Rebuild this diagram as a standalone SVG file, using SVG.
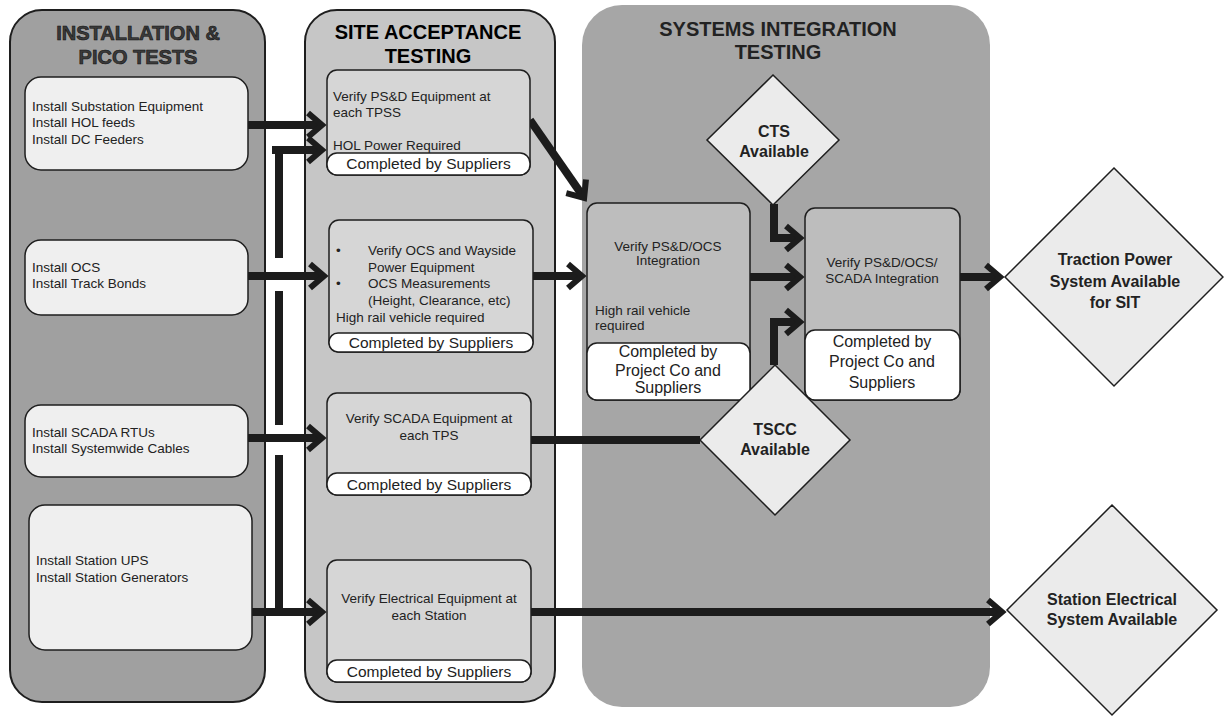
<svg xmlns="http://www.w3.org/2000/svg" width="1224" height="717" viewBox="0 0 1224 717">
<style>
  .txt{font-family:"Liberation Sans",Arial,sans-serif;fill:#222}
  .hdr{font-family:"Liberation Sans",Arial,sans-serif;font-weight:bold;font-size:20px;text-anchor:middle}
  .s13{font-size:13.5px}
  .s15{font-size:15.5px}
  .r16{font-size:16px}
  .b16{font-size:16px;font-weight:bold}
  .mid{text-anchor:middle}
  .box1{fill:#efefef;stroke:#1e1e1e;stroke-width:1.5}
  .box2{fill:#d6d6d6;stroke:#1e1e1e;stroke-width:1.5}
  .box3{fill:#bdbdbd;stroke:#1e1e1e;stroke-width:1.5}
  .pill{fill:#ffffff;stroke:#1e1e1e;stroke-width:1.5}
  .dia{fill:#ebebeb;stroke:#1e1e1e;stroke-width:1.5}
  .wire{fill:none;stroke:#1c1c1c;stroke-width:8}
  .arrow{marker-end:url(#chev)}
</style>
<defs>
  <marker id="chev" markerUnits="userSpaceOnUse" viewBox="-20 -16 26 32" refX="-3" refY="0" markerWidth="26" markerHeight="32" orient="auto" overflow="visible">
    <path d="M-14,-12 L0,0 L-14,12" fill="none" stroke="#1c1c1c" stroke-width="6"/>
  </marker>
</defs>

<!-- phase lanes -->
<g id="lane-install">
  <rect x="10" y="10" width="255" height="692" rx="32" fill="#a0a0a0" stroke="#1e1e1e" stroke-width="2"/>
  <text class="hdr" x="138" y="40" fill="#3a3a3a" stroke="#111" stroke-width="0.6">INSTALLATION &amp;</text>
  <text class="hdr" x="138" y="64" fill="#3a3a3a" stroke="#111" stroke-width="0.6">PICO TESTS</text>
</g>
<g id="lane-sat">
  <rect x="305" y="10" width="250" height="692" rx="32" fill="#c6c6c6" stroke="#1e1e1e" stroke-width="2"/>
  <text class="hdr" x="428" y="39" fill="#000">SITE ACCEPTANCE</text>
  <text class="hdr" x="428" y="63" fill="#000">TESTING</text>
</g>
<g id="lane-sit">
  <rect x="582" y="5" width="408" height="702" rx="40" fill="#a6a6a6"/>
  <text class="hdr" x="778" y="36" fill="#222">SYSTEMS INTEGRATION</text>
  <text class="hdr" x="778" y="59" fill="#222">TESTING</text>
</g>

<!-- connectors -->
<g id="connectors">
  <path class="wire arrow" d="M248,125 H319"/>
  <path class="wire arrow" d="M272,150 H319"/>
  <path class="wire" d="M279,146 V258 M279,291 V425 M279,455 V612"/>
  <path class="wire arrow" d="M248,276 H321"/>
  <path class="wire arrow" d="M248,438 H319"/>
  <path class="wire arrow" d="M252,612 H319"/>
  <path class="wire arrow" d="M530,120 L582.4,195.4"/>
  <path class="wire arrow" d="M533,276 H579"/>
  <path class="wire" d="M531,440 H700"/>
  <path class="wire arrow" d="M750,277 H797"/>
  <path class="wire arrow" d="M774,204 V238 H797"/>
  <path class="wire arrow" d="M774,365 V322 H797"/>
  <path class="wire arrow" d="M960,277 H997"/>
  <path class="wire arrow" d="M531,612 H999"/>
</g>

<!-- installation tasks -->
<g id="inst-substation">
  <rect class="box1" x="25" y="77" width="223" height="93" rx="16"/>
  <text class="txt s13" x="32" y="111">Install Substation Equipment</text>
  <text class="txt s13" x="32" y="127">Install HOL feeds</text>
  <text class="txt s13" x="32" y="144">Install DC Feeders</text>
</g>
<g id="inst-ocs">
  <rect class="box1" x="25" y="240" width="223" height="75" rx="16"/>
  <text class="txt s13" x="32" y="272">Install OCS</text>
  <text class="txt s13" x="32" y="288">Install Track Bonds</text>
</g>
<g id="inst-scada">
  <rect class="box1" x="25" y="405" width="223" height="72" rx="16"/>
  <text class="txt s13" x="32" y="437">Install SCADA RTUs</text>
  <text class="txt s13" x="32" y="453">Install Systemwide Cables</text>
</g>
<g id="inst-station">
  <rect class="box1" x="29" y="505" width="223" height="145" rx="16"/>
  <text class="txt s13" x="36" y="565">Install Station UPS</text>
  <text class="txt s13" x="36" y="582">Install Station Generators</text>
</g>

<!-- site acceptance tests -->
<g id="sat-psd">
  <rect class="box2" x="327" y="70" width="203" height="105" rx="10"/>
  <text class="txt s13" x="333" y="101">Verify PS&amp;D Equipment at</text>
  <text class="txt s13" x="333" y="117">each TPSS</text>
  <text class="txt s13" x="333" y="150">HOL Power Required</text>
  <rect class="pill" x="327" y="153" width="203" height="22" rx="10"/>
  <text class="txt s15 mid" x="428.5" y="169">Completed by Suppliers</text>
</g>
<g id="sat-ocs">
  <rect class="box2" x="329" y="220" width="204" height="132" rx="10"/>
  <text class="txt s13" x="336" y="255">•</text>
  <text class="txt s13" x="368" y="255">Verify OCS and Wayside</text>
  <text class="txt s13" x="368" y="272">Power Equipment</text>
  <text class="txt s13" x="336" y="288">•</text>
  <text class="txt s13" x="368" y="288">OCS Measurements</text>
  <text class="txt s13" x="368" y="305">(Height, Clearance, etc)</text>
  <text class="txt s13" x="336" y="322">High rail vehicle required</text>
  <rect class="pill" x="329" y="333" width="204" height="19" rx="9"/>
  <text class="txt s15 mid" x="431" y="348">Completed by Suppliers</text>
</g>
<g id="sat-scada">
  <rect class="box2" x="327" y="393" width="204" height="102" rx="10"/>
  <text class="txt s13 mid" x="429" y="423">Verify SCADA Equipment at</text>
  <text class="txt s13 mid" x="429" y="440">each TPS</text>
  <rect class="pill" x="327" y="473" width="204" height="22" rx="10"/>
  <text class="txt s15 mid" x="429" y="490">Completed by Suppliers</text>
</g>
<g id="sat-electrical">
  <rect class="box2" x="327" y="560" width="204" height="122" rx="10"/>
  <text class="txt s13 mid" x="429" y="603">Verify Electrical Equipment at</text>
  <text class="txt s13 mid" x="429" y="620">each Station</text>
  <rect class="pill" x="327" y="660" width="204" height="22" rx="10"/>
  <text class="txt s15 mid" x="429" y="677">Completed by Suppliers</text>
</g>

<!-- integration tests -->
<g id="sit-psd-ocs">
  <rect class="box3" x="587" y="203" width="163" height="197" rx="10"/>
  <text class="txt s13 mid" x="668" y="251">Verify PS&amp;D/OCS</text>
  <text class="txt s13 mid" x="668" y="265">Integration</text>
  <text class="txt s13" x="595" y="315">High rail vehicle</text>
  <text class="txt s13" x="595" y="330">required</text>
  <rect class="pill" x="587" y="343" width="163" height="57" rx="10"/>
  <text class="txt r16 mid" x="668" y="357">Completed by</text>
  <text class="txt r16 mid" x="668" y="376">Project Co and</text>
  <text class="txt r16 mid" x="668" y="393">Suppliers</text>
</g>
<g id="sit-psd-ocs-scada">
  <rect class="box3" x="805" y="208" width="155" height="192" rx="10"/>
  <text class="txt s13 mid" x="882" y="267">Verify PS&amp;D/OCS/</text>
  <text class="txt s13 mid" x="882" y="283">SCADA Integration</text>
  <rect class="pill" x="805" y="330" width="155" height="70" rx="10"/>
  <text class="txt r16 mid" x="882" y="347">Completed by</text>
  <text class="txt r16 mid" x="882" y="367">Project Co and</text>
  <text class="txt r16 mid" x="882" y="388">Suppliers</text>
</g>

<!-- availability milestones -->
<g id="cts">
  <polygon class="dia" points="773,75 839,140 773,205 707,140"/>
  <text class="txt b16 mid" x="774" y="137">CTS</text>
  <text class="txt b16 mid" x="774" y="157">Available</text>
</g>
<g id="tscc">
  <polygon class="dia" points="775,365 850,440 775,515 700,440"/>
  <text class="txt b16 mid" x="775" y="435">TSCC</text>
  <text class="txt b16 mid" x="775" y="455">Available</text>
</g>
<g id="traction-power">
  <polygon class="dia" points="1114,168 1223,277 1114,386 1005,277"/>
  <text class="txt b16 mid" x="1115" y="265">Traction Power</text>
  <text class="txt b16 mid" x="1115" y="287">System Available</text>
  <text class="txt b16 mid" x="1115" y="308">for SIT</text>
</g>
<g id="station-electrical">
  <polygon class="dia" points="1112,505 1217,610 1112,715 1007,610"/>
  <text class="txt b16 mid" x="1112" y="605">Station Electrical</text>
  <text class="txt b16 mid" x="1112" y="625">System Available</text>
</g>
</svg>
